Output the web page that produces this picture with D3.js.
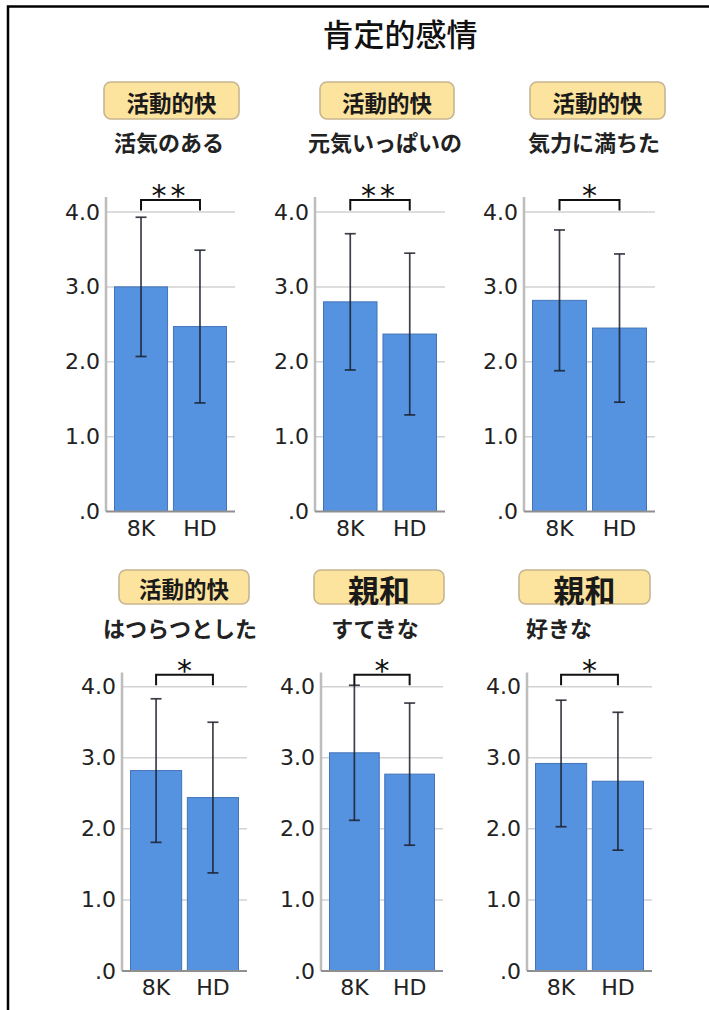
<!DOCTYPE html>
<html>
<head>
<meta charset="utf-8">
<script src="https://cdn.jsdelivr.net/npm/d3@7"></script>
<style>
  html, body { margin: 0; padding: 0; background: #fff; }
  svg { display: block; }
</style>
</head>
<body>
<svg id="chart" width="709" height="1010"></svg>
<script>
// ---- data ----
const chartTitle = '肯定的感情';
const itemLabels = ['活気のある', '元気いっぱいの', '気力に満ちた', 'はつらつとした', 'すてきな', '好きな'];
const groupLabels = ['活動的快', '活動的快', '活動的快', '活動的快', '親和', '親和'];
const conditions = ['8K', 'HD'];
const mean8K = [3.00, 2.80, 2.82, 2.82, 3.07, 2.92];
const sd8K   = [0.93, 0.91, 0.94, 1.01, 0.95, 0.89];
const meanHD = [2.47, 2.37, 2.45, 2.44, 2.77, 2.67];
const sdHD   = [1.02, 1.08, 0.99, 1.06, 1.00, 0.97];
const significance = ['**', '**', '*', '*', '*', '*'];
const yTickValues = [0, 1, 2, 3, 4];
const yTickLabels = ['.0', '1.0', '2.0', '3.0', '4.0'];

// ---- layout ----
const rows = [
  { zero: 511.5, four: 212,   boxTop: 82,  boxBottom: 119, subY: 141 },
  { zero: 971,   four: 686.7, boxTop: 570, boxBottom: 604, subY: 627 }
];
const panels = [
  { row: 0, ax0: 106, ax1: 235, bx0: 104, bx1: 239, subX: 169 },
  { row: 0, ax0: 315, ax1: 445, bx0: 320, bx1: 454, subX: 385 },
  { row: 0, ax0: 524, ax1: 655, bx0: 530, bx1: 665, subX: 594 },
  { row: 1, ax0: 122, ax1: 247, bx0: 119, bx1: 249, subX: 180 },
  { row: 1, ax0: 321, ax1: 443, bx0: 314, bx1: 444, subX: 375 },
  { row: 1, ax0: 527, ax1: 652, bx0: 519, bx1: 650, subX: 559 }
];

const JP = '"Noto Sans CJK JP", "Noto Sans", sans-serif';
const NUM = '"DejaVu Sans", Verdana, sans-serif';

const svg = d3.select('#chart');
svg.append('rect').attr('width', 709).attr('height', 1010).attr('fill', '#fff');

// frame (left and top edges)
svg.append('path')
  .attr('d', 'M8,1010 V6.5 H709')
  .attr('fill', 'none').attr('stroke', '#000').attr('stroke-width', 2.5);

svg.append('text')
  .attr('x', 400).attr('y', 32)
  .attr('text-anchor', 'middle').attr('dominant-baseline', 'central')
  .attr('font-family', JP).attr('font-size', 31).attr('font-weight', 500)
  .attr('fill', '#111')
  .text(chartTitle);

panels.forEach((p, i) => {
  const r = rows[p.row];
  const g = svg.append('g');

  const y = d3.scaleLinear().domain([0, 4]).range([r.zero, r.four]);
  const x = d3.scaleBand().domain(conditions)
    .range([p.ax0 + 8.5, p.ax1 - 8.5]).paddingInner(0.1);

  const means = [mean8K[i], meanHD[i]];
  const sds = [sd8K[i], sdHD[i]];
  const rowsData = conditions.map((c, k) => ({ c, m: means[k], s: sds[k] }));

  // group badge
  const isBig = groupLabels[i] === '親和';
  g.append('rect')
    .attr('x', p.bx0).attr('y', r.boxTop)
    .attr('width', p.bx1 - p.bx0).attr('height', r.boxBottom - r.boxTop)
    .attr('rx', 7)
    .attr('fill', '#fce39e').attr('stroke', '#c6b58f').attr('stroke-width', 1.6);
  g.append('text')
    .attr('x', (p.bx0 + p.bx1) / 2).attr('y', (r.boxTop + r.boxBottom) / 2 + 1)
    .attr('text-anchor', 'middle').attr('dominant-baseline', 'central')
    .attr('font-family', JP).attr('font-weight', 700)
    .attr('font-size', isBig ? 31 : 22.5)
    .attr('fill', '#1a1a1a')
    .text(groupLabels[i]);

  // item label
  g.append('text')
    .attr('x', p.subX).attr('y', r.subY)
    .attr('text-anchor', 'middle').attr('dominant-baseline', 'central')
    .attr('font-family', JP).attr('font-weight', 700).attr('font-size', 22)
    .attr('fill', '#222')
    .text(itemLabels[i]);

  // gridlines
  g.selectAll('line.grid').data(yTickValues.filter(v => v > 0)).join('line')
    .attr('class', 'grid')
    .attr('x1', p.ax0).attr('x2', p.ax1)
    .attr('y1', d => y(d)).attr('y2', d => y(d))
    .attr('stroke', '#d2d2d2').attr('stroke-width', 1.5);

  // y axis
  const yAxis = d3.axisLeft(y).tickValues(yTickValues).tickSize(0).tickPadding(6)
    .tickFormat((d, k) => yTickLabels[k]);
  const ya = g.append('g').attr('transform', `translate(${p.ax0},0)`).call(yAxis);
  ya.select('.domain').remove();
  ya.selectAll('text')
    .attr('font-family', NUM).attr('font-size', 22).attr('fill', '#222');
  g.append('line')
    .attr('x1', p.ax0).attr('x2', p.ax0)
    .attr('y1', y(0)).attr('y2', y(4.2))
    .attr('stroke', '#bdbdbd').attr('stroke-width', 2.5);

  // bars
  g.selectAll('rect.bar').data(rowsData).join('rect')
    .attr('class', 'bar')
    .attr('x', d => x(d.c)).attr('width', x.bandwidth())
    .attr('y', d => y(d.m)).attr('height', d => y(0) - y(d.m))
    .attr('fill', '#5592e0').attr('stroke', '#4274b8').attr('stroke-width', 1);

  // baseline
  g.append('line')
    .attr('x1', p.ax0).attr('x2', p.ax1)
    .attr('y1', y(0)).attr('y2', y(0))
    .attr('stroke', '#8f8f8f').attr('stroke-width', 2);

  // error bars
  const cap = 5.5;
  const eb = g.selectAll('g.err').data(rowsData).join('g').attr('class', 'err')
    .attr('stroke', '#1b1f2a').attr('stroke-width', 1.7).attr('stroke-opacity', 0.85);
  eb.append('line')
    .attr('x1', d => x(d.c) + x.bandwidth() / 2).attr('x2', d => x(d.c) + x.bandwidth() / 2)
    .attr('y1', d => y(d.m + d.s)).attr('y2', d => y(d.m - d.s));
  eb.append('line')
    .attr('x1', d => x(d.c) + x.bandwidth() / 2 - cap).attr('x2', d => x(d.c) + x.bandwidth() / 2 + cap)
    .attr('y1', d => y(d.m + d.s)).attr('y2', d => y(d.m + d.s));
  eb.append('line')
    .attr('x1', d => x(d.c) + x.bandwidth() / 2 - cap).attr('x2', d => x(d.c) + x.bandwidth() / 2 + cap)
    .attr('y1', d => y(d.m - d.s)).attr('y2', d => y(d.m - d.s));

  // x labels
  g.selectAll('text.xl').data(conditions).join('text')
    .attr('class', 'xl')
    .attr('x', d => x(d) + x.bandwidth() / 2).attr('y', y(0) + 24)
    .attr('text-anchor', 'middle')
    .attr('font-family', NUM).attr('font-size', 22).attr('fill', '#222')
    .text(d => d);

  // significance bracket
  const cx0 = x(conditions[0]) + x.bandwidth() / 2;
  const cx1 = x(conditions[1]) + x.bandwidth() / 2;
  const top = y(4) - 12, bot = y(4) - 1.5;
  g.append('path')
    .attr('d', `M${cx0},${bot} V${top} H${cx1} V${bot}`)
    .attr('fill', 'none').attr('stroke', '#111').attr('stroke-width', 2);
  g.append('text')
    .attr('x', (cx0 + cx1) / 2).attr('y', top + 6)
    .attr('text-anchor', 'middle')
    .attr('font-family', NUM).attr('font-size', 30).attr('fill', '#111')
    .attr('letter-spacing', significance[i].length > 1 ? 4 : 0)
    .text(significance[i]);
});
</script>
</body>
</html>
